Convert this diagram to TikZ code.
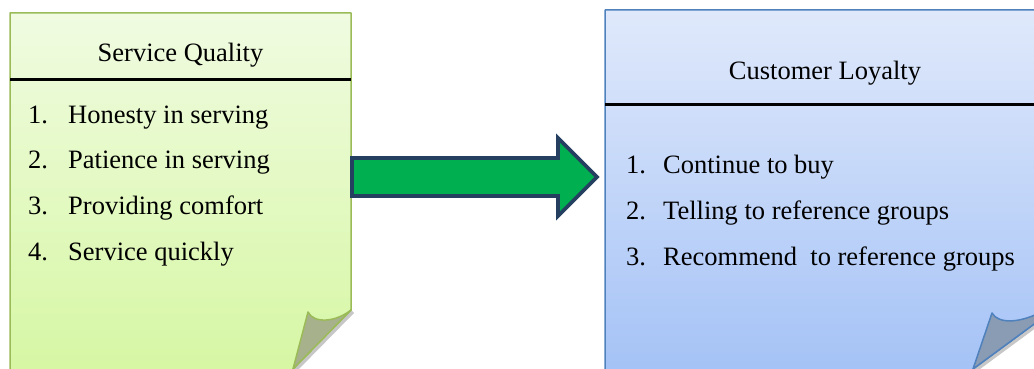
\documentclass[tikz,border=0pt]{standalone}
\usepackage{fontspec}
\setmainfont{Liberation Serif}
\usetikzlibrary{calc}
\begin{document}
\begin{tikzpicture}[x=1pt,y=-1pt,
  label/.style={inner sep=0pt,anchor=base west,font=\fontsize{26.5}{30}\selectfont},
  title/.style={inner sep=0pt,anchor=base,font=\fontsize{26.5}{30}\selectfont},
  rule/.style={line width=3pt,black},
  flowarrow/.style={fill=arrowgreen,draw=arrownavy,line width=3.8pt,line join=miter}]
\definecolor{greenedge}{HTML}{9BBB59}
\definecolor{greentop}{HTML}{F0FBE1}
\definecolor{greenbot}{HTML}{D6F7A3}
\definecolor{greenflap}{HTML}{A7B18B}
\definecolor{blueedge}{HTML}{4F81BD}
\definecolor{bluetop}{HTML}{E0E9FB}
\definecolor{bluebot}{HTML}{A4C2F6}
\definecolor{blueflap}{HTML}{8A9CB4}
\definecolor{arrowgreen}{HTML}{00B050}
\definecolor{arrownavy}{HTML}{243F60}
\useasboundingbox (0,0) rectangle (1034,369);
\clip (0,0) rectangle (1034,369);

% ---- Service Quality note ----
\coordinate (gTL) at (10,13);
\coordinate (gTR) at (351,13);
\coordinate (gRC) at (351,310);
\coordinate (gBC) at (293,369);
\coordinate (gTip) at (308,312);
\shade[top color=greentop,bottom color=greenbot]
  (10,13) -- (351,13) -- (351,310) -- (287,375) -- (10,375) -- cycle;
\fill[gray!55,opacity=0.8] (gRC) -- ++(3,3) -- (296,372) -- (gBC) -- cycle;
\draw[greenedge,line width=1.5pt,line join=round]
  (10,375) -- (gTL) -- (gTR) -- (gRC) -- (gBC);
\draw[greenedge,line width=1.5pt,fill=greenflap,line join=round]
  (gBC) -- (gTip) .. controls (314,324) and (336,322) .. (gRC) -- cycle;
\draw[rule] (10,80) -- (351,80);
\node[title] (sq) at (180.5,62) {Service Quality};
\node[label] (s1n) at (28,123) {1.};
\node[label] (s1) at (68,123) {Honesty in serving};
\node[label] (s2n) at (28,168) {2.};
\node[label] (s2) at (68,168) {Patience in serving};
\node[label] (s3n) at (28,214) {3.};
\node[label] (s3) at (68,214) {Providing comfort};
\node[label] (s4n) at (28,260) {4.};
\node[label] (s4) at (68,260) {Service quickly};

% ---- Customer Loyalty note ----
\coordinate (bTL) at (605,10);
\coordinate (bTR) at (1045,10);
\coordinate (bRC) at (1045,316);
\coordinate (bBC) at (973,369);
\coordinate (bTip) at (992,313);
\shade[top color=bluetop,bottom color=bluebot]
  (605,10) -- (1045,10) -- (1045,316) -- (965,375) -- (605,375) -- cycle;
\fill[gray!55,opacity=0.8] (bRC) -- ++(3,3) -- (976,372) -- (bBC) -- cycle;
\draw[blueedge,line width=1.5pt,line join=round]
  (605,375) -- (bTL) -- (bTR) -- (bRC) -- (bBC);
\draw[blueedge,line width=1.5pt,fill=blueflap,line join=round]
  (bBC) -- (bTip) .. controls (998,324) and (1020,324) .. (1045,310) -- (bRC) -- cycle;
\draw[rule] (605,104) -- (1045,104);
\node[title] (cl) at (825,80) {Customer Loyalty};
\node[label] (c1n) at (626,173) {1.};
\node[label] (c1) at (663,173) {Continue to buy};
\node[label] (c2n) at (626,219) {2.};
\node[label] (c2) at (663,219) {Telling to reference groups};
\node[label] (c3n) at (626,265) {3.};
\node[label] (c3) at (663,265) {Recommend \ to reference groups};

% ---- block arrow between the notes ----
\coordinate (aS) at (352,177);
\coordinate (aT) at (597,177);
\draw[flowarrow]
  ($(aS)+(0,-19)$) -- (558,158) -- (558,138) -- (aT) -- (558,216) -- (558,196)
  -- ($(aS)+(0,19)$) -- cycle;
\end{tikzpicture}
\end{document}
